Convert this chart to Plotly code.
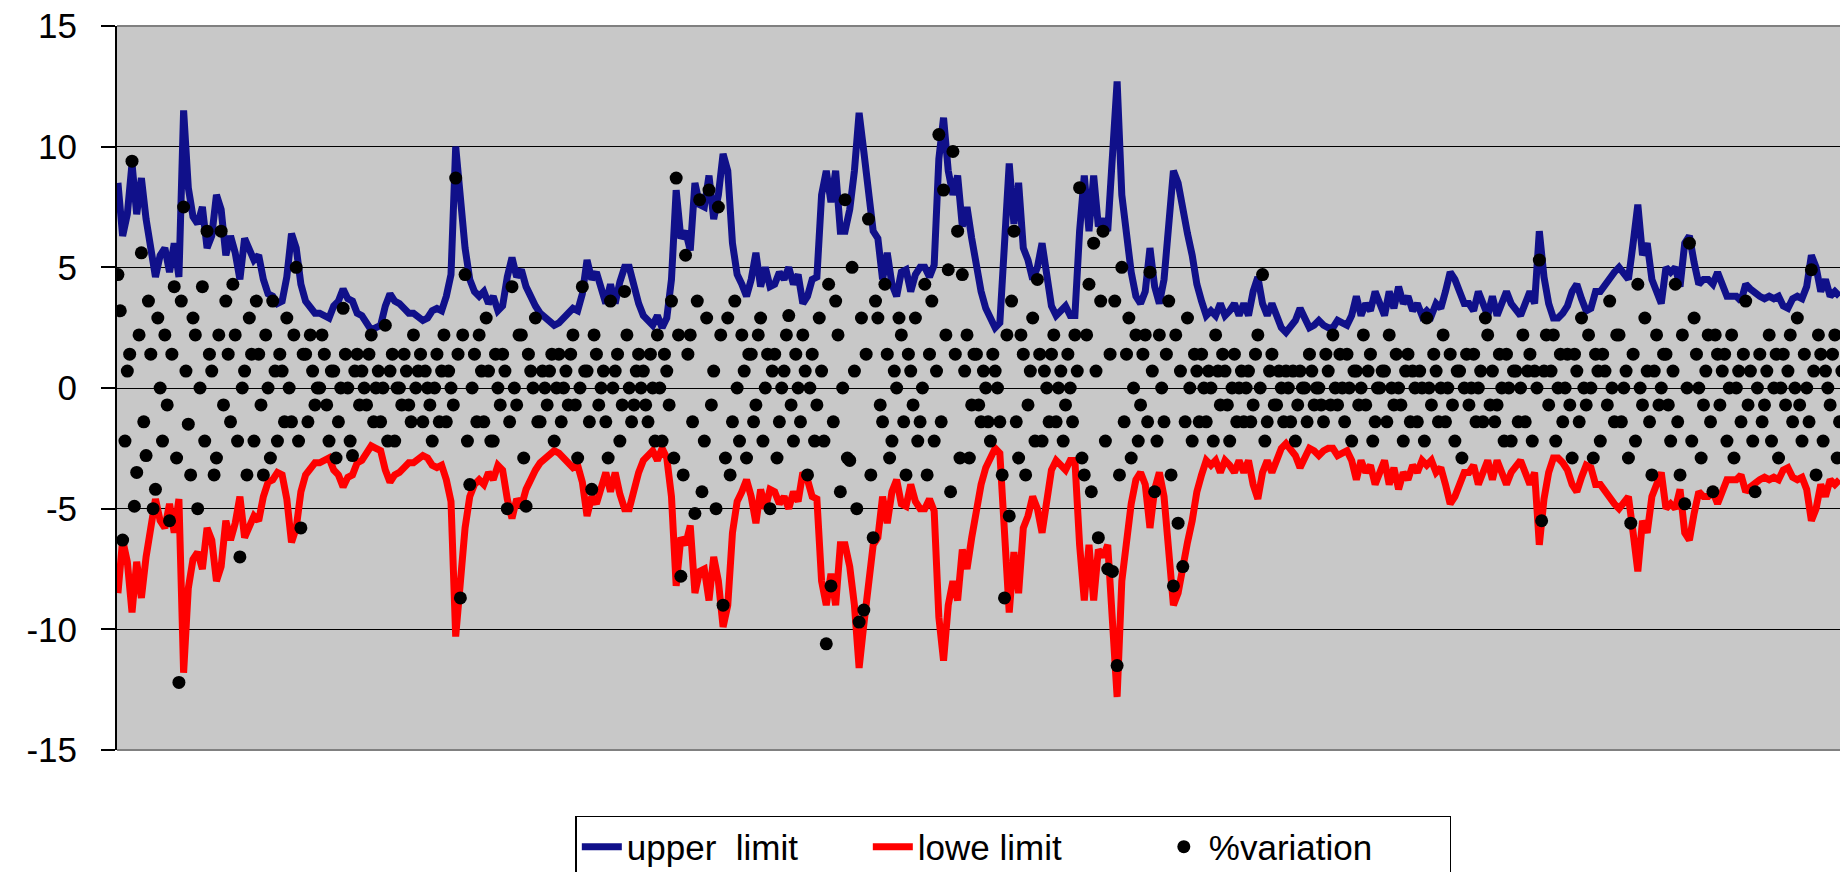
import plotly.graph_objects as go

# ---- data ----
upper_limit = [
    8.5, 6.3, 7.2, 9.3, 7.2, 8.7, 7.0, 5.8, 4.6, 5.5,
    5.8, 4.8, 6.0, 4.6, 11.5, 8.3, 7.1, 6.8, 7.5, 5.8,
    6.3, 8.0, 7.4, 5.5, 6.3, 5.6, 4.5, 6.2, 5.8, 5.3,
    5.5, 4.5, 3.9, 3.8, 3.5, 3.6, 4.6, 6.4, 5.8, 4.3,
    3.6, 3.4, 3.1, 3.1, 3.0, 2.9, 3.4, 3.6, 4.1, 3.7,
    3.6, 3.1, 3.0, 2.7, 2.4, 2.5, 2.6, 3.4, 3.9, 3.6,
    3.5, 3.3, 3.1, 3.1, 2.9, 2.8, 2.9, 3.2, 3.3, 3.2,
    3.8, 4.7, 10.0, 7.8, 5.8, 4.5, 4.0, 3.8, 4.0, 3.5,
    3.8, 3.2, 3.4, 4.6, 5.4, 4.6, 4.9, 4.2, 3.7, 3.4,
    3.1, 2.9, 2.7, 2.6, 2.7, 2.9, 3.2, 3.3, 3.2, 3.9,
    5.3, 4.5, 4.8, 4.0, 3.5, 4.3, 3.5, 4.4, 5.0, 5.0,
    4.2, 3.5, 3.0, 2.8, 2.6, 3.0, 2.5, 2.9, 4.5, 8.2,
    6.2, 6.5, 5.7, 8.5, 7.6, 7.5, 8.8, 7.0, 8.0, 9.7,
    9.0, 6.0, 4.7, 4.3, 3.8, 4.5, 5.6, 4.2, 5.0, 4.2,
    4.3, 4.8, 4.5, 5.0, 4.3, 4.7, 3.5, 3.8, 4.5, 4.6,
    8.0, 9.0, 7.7, 9.0, 6.5, 6.5, 7.4, 9.0, 11.4, 9.8,
    8.0, 6.5, 6.2, 4.5, 5.6, 4.3, 3.8, 4.8, 4.9, 4.0,
    4.7, 5.0, 5.0, 4.6, 5.1, 9.5, 11.2, 9.0, 8.0, 8.8,
    6.7, 7.5, 6.2, 5.0, 4.0, 3.3, 2.8, 2.5, 2.7, 6.0,
    9.3, 6.8, 8.5, 5.8, 5.3, 4.5, 5.0, 6.0, 4.5, 3.4,
    3.0, 3.2, 3.4, 3.0, 3.0, 6.5, 8.8, 6.5, 8.8, 6.7,
    7.0, 6.5, 9.5, 12.7, 8.0, 6.2, 4.8, 3.8, 3.5, 4.0,
    5.8, 4.2, 3.5, 4.5, 6.5, 9.0, 8.5, 7.3, 6.4, 5.5,
    4.3, 3.6, 3.0, 3.2, 3.0, 3.5, 3.0, 3.2, 3.5, 3.0,
    3.5, 3.0, 4.0, 4.6, 3.5, 3.0, 3.5, 3.0, 2.5, 2.3,
    2.5, 2.8, 3.3, 2.8, 2.5, 2.6, 2.8, 2.6, 2.5, 2.5,
    2.8, 2.7, 2.6, 3.0, 3.8, 3.0, 3.5, 3.2, 4.0, 3.5,
    3.0, 4.0, 3.3, 4.2, 3.5, 3.8, 3.2, 3.5, 3.0, 3.2,
    3.0, 3.5, 3.3, 4.0, 4.8, 4.5, 4.0, 3.5, 3.5, 3.2,
    4.0, 3.5, 3.0, 3.8, 3.0, 3.5, 4.0, 3.5, 3.2, 3.0,
    3.5, 4.0, 3.5, 6.5, 4.6, 3.5, 2.9, 2.9, 3.1, 3.4,
    4.0, 4.3, 3.7, 3.2, 3.3, 4.0, 4.0, 4.3, 4.5, 4.8,
    5.0, 4.8, 4.5, 6.0, 7.6, 5.5, 6.0, 4.5, 4.0, 3.5,
    5.0, 4.8, 5.0, 4.2, 6.0, 6.3, 5.2, 4.3, 4.5, 4.5,
    4.3, 4.8, 4.3, 3.8, 3.8, 3.8, 3.6, 4.3, 4.1, 3.9,
    3.8, 3.7, 3.8, 3.7, 3.8, 3.4, 3.3, 3.7, 3.8, 3.7,
    4.2, 5.5, 5.0, 4.0, 4.5, 3.8, 4.0, 3.8,
]

lower_limit = [
    -8.5, -6.3, -7.2, -9.3, -7.2, -8.7, -7.0, -5.8, -4.6, -5.5,
    -5.8, -4.8, -6.0, -4.6, -11.8, -8.3, -7.1, -6.8, -7.5, -5.8,
    -6.3, -8.0, -7.4, -5.5, -6.3, -5.6, -4.5, -6.2, -5.8, -5.3,
    -5.5, -4.5, -3.9, -3.8, -3.5, -3.6, -4.6, -6.4, -5.8, -4.3,
    -3.6, -3.4, -3.1, -3.1, -3.0, -2.9, -3.4, -3.6, -4.1, -3.7,
    -3.6, -3.1, -3.0, -2.7, -2.4, -2.5, -2.6, -3.4, -3.9, -3.6,
    -3.5, -3.3, -3.1, -3.1, -2.9, -2.8, -2.9, -3.2, -3.3, -3.2,
    -3.8, -4.7, -10.3, -7.8, -5.8, -4.5, -4.0, -3.8, -4.0, -3.5,
    -3.8, -3.2, -3.4, -4.6, -5.4, -4.6, -4.9, -4.2, -3.7, -3.4,
    -3.1, -2.9, -2.7, -2.6, -2.7, -2.9, -3.2, -3.3, -3.2, -3.9,
    -5.3, -4.5, -4.8, -4.0, -3.5, -4.3, -3.5, -4.4, -5.0, -5.0,
    -4.2, -3.5, -3.0, -2.8, -2.6, -3.0, -2.5, -2.9, -4.5, -8.2,
    -6.2, -6.5, -5.7, -8.5, -7.6, -7.5, -8.8, -7.0, -8.0, -9.9,
    -9.0, -6.0, -4.7, -4.3, -3.8, -4.5, -5.6, -4.2, -5.0, -4.2,
    -4.3, -4.8, -4.5, -5.0, -4.3, -4.7, -3.5, -3.8, -4.5, -4.6,
    -8.0, -9.0, -7.7, -9.0, -6.5, -6.5, -7.4, -9.0, -11.6, -9.8,
    -8.0, -6.5, -6.2, -4.5, -5.6, -4.3, -3.8, -4.8, -4.9, -4.0,
    -4.7, -5.0, -5.0, -4.6, -5.1, -9.5, -11.3, -9.0, -8.0, -8.8,
    -6.7, -7.5, -6.2, -5.0, -4.0, -3.3, -2.8, -2.5, -2.7, -6.0,
    -9.3, -6.8, -8.5, -5.8, -5.3, -4.5, -5.0, -6.0, -4.5, -3.4,
    -3.0, -3.2, -3.4, -3.0, -3.0, -6.5, -8.8, -6.5, -8.8, -6.7,
    -7.0, -6.5, -9.5, -12.8, -8.0, -6.2, -4.8, -3.8, -3.5, -4.0,
    -5.8, -4.2, -3.5, -4.5, -6.5, -9.0, -8.5, -7.3, -6.4, -5.5,
    -4.3, -3.6, -3.0, -3.2, -3.0, -3.5, -3.0, -3.2, -3.5, -3.0,
    -3.5, -3.0, -4.0, -4.6, -3.5, -3.0, -3.5, -3.0, -2.5, -2.3,
    -2.5, -2.8, -3.3, -2.8, -2.5, -2.6, -2.8, -2.6, -2.5, -2.5,
    -2.8, -2.7, -2.6, -3.0, -3.8, -3.0, -3.5, -3.2, -4.0, -3.5,
    -3.0, -4.0, -3.3, -4.2, -3.5, -3.8, -3.2, -3.5, -3.0, -3.2,
    -3.0, -3.5, -3.3, -4.0, -4.8, -4.5, -4.0, -3.5, -3.5, -3.2,
    -4.0, -3.5, -3.0, -3.8, -3.0, -3.5, -4.0, -3.5, -3.2, -3.0,
    -3.5, -4.0, -3.5, -6.5, -4.6, -3.5, -2.9, -2.9, -3.1, -3.4,
    -4.0, -4.3, -3.7, -3.2, -3.3, -4.0, -4.0, -4.3, -4.5, -4.8,
    -5.0, -4.8, -4.5, -6.0, -7.6, -5.5, -6.0, -4.5, -4.0, -3.5,
    -5.0, -4.8, -5.0, -4.2, -6.0, -6.3, -5.2, -4.3, -4.5, -4.5,
    -4.3, -4.8, -4.3, -3.8, -3.8, -3.8, -3.6, -4.3, -4.1, -3.9,
    -3.8, -3.7, -3.8, -3.7, -3.8, -3.4, -3.3, -3.7, -3.8, -3.7,
    -4.2, -5.5, -5.0, -4.0, -4.5, -3.8, -4.0, -3.8,
]

variation = [
    4.7, 3.2, -6.3, -2.2, 0.7, 1.4, 9.4, -4.9, -3.5, 2.2, 5.6, -1.4, -2.8, 3.6, 1.4, -5.0, -4.2, 2.9, 0.0, -2.2,
    2.2, -0.7, -5.5, 1.4, 4.2, -2.9, -12.2, 3.6, 7.5, 0.7, -1.5, -3.6, 2.9, 2.2, -5.0, 0.0, 4.2, -2.2, 6.5, 1.4,
    0.7, -3.6, -2.9, 2.2, 6.5, -0.7, 3.6, 1.4, -1.4, 4.3, 2.2, -2.2, -7.0, 0.0, 0.7, -3.6, 2.9, 1.4, -2.2, 3.6,
    1.4, -0.7, -3.6, 2.2, 0.0, -2.9, 3.6, 0.7, -2.2, 1.4, 0.7, -1.4, 2.9, 0.0, -1.4, 2.2, 5.0, -2.2, -5.8, 1.4,
    1.4, -1.4, 2.2, 0.7, -0.7, 0.0, 0.0, 2.2, 1.4, -0.7, -2.2, 0.7, 0.7, -2.9, -1.4, 0.0, 3.3, 1.4, 0.0, -2.2,
    -2.8, 0.7, 1.4, -0.7, 0.7, 0.0, -0.7, 1.4, 2.2, -1.4, 0.0, 0.7, -1.4, 0.0, 2.6, -2.2, 0.7, 1.4, -2.2, 0.0,
    0.0, -0.7, 1.4, 0.7, -0.7, -1.4, 2.2, 0.0, 0.7, 1.4, -1.4, 0.7, 0.0, -0.7, -2.2, 0.0, 1.4, -1.4, 0.7, 2.2,
    -1.4, 0.7, 0.0, -0.7, 8.7, 1.4, -8.7, 2.2, 4.7, -2.2, -4.0, 0.0, 1.4, -1.4, 2.2, 0.7, -1.4, 2.9, 0.7, -2.2,
    -2.2, 1.4, 0.0, -0.7, 1.4, 0.7, -5.0, -1.4, 4.2, 0.0, -0.7, 2.2, 2.2, -2.9, -4.9, 1.4, 0.7, 0.0, 2.9, -1.4,
    -1.4, 0.7, 0.0, -0.7, 0.7, 1.4, -2.2, 0.0, 1.4, -1.4, 0.0, 0.7, -0.7, 1.4, 2.2, -0.7, -2.9, 0.0, 4.2, 0.7,
    0.7, -1.4, -4.2, 2.2, 1.4, -0.7, 0.0, 0.7, -1.4, -2.9, 3.6, 0.0, 0.7, 1.4, -2.2, -0.7, 4.0, 2.2, 0.0, -1.4,
    -0.7, 0.7, 1.4, 0.0, 0.7, -0.7, -1.4, 1.4, 0.0, -2.2, 2.2, 0.0, -2.2, 1.4, 0.7, -0.7, 3.6, -2.9, 8.7, 2.2,
    -7.8, -3.6, 5.5, 1.4, 2.2, -1.4, -5.2, 3.6, 7.8, -4.3, -2.2, 2.9, 8.2, -0.7, 0.7, -5.0, 7.5, 2.2, -9.0, -2.9,
    2.9, -3.6, -1.4, 3.6, 0.0, -2.2, 2.2, 0.7, -2.9, 1.4, 1.4, -1.4, -0.7, 2.2, 2.9, -2.2, 0.0, 1.4, -5.0, 0.7,
    1.4, -2.9, -1.4, 0.0, 0.7, 2.2, 3.0, -0.7, -2.2, 1.4, 0.0, -1.4, 2.2, 0.7, -3.6, 0.0, 1.4, -2.2, -0.7, 2.9,
    0.7, -2.2, -10.6, 4.3, -8.2, -1.4, 3.6, 2.2, -4.3, 0.0, 7.8, -2.9, -3.0, 5.0, 0.7, -5.0, -9.7, 2.9, -9.2, 1.4,
    7.0, -3.6, -6.2, 3.6, 2.9, -0.7, -1.4, 4.3, 1.4, -2.9, -2.2, 0.7, 0.0, 2.9, 2.2, -1.4, -3.6, 1.4, 0.7, -0.7,
    2.9, -2.2, -1.4, 0.0, 4.3, -3.6, 1.4, 3.6, -2.2, 0.7, 10.5, -1.4, 8.2, 2.2, 4.9, -4.3, 9.8, 1.4, 6.5, -2.9,
    4.7, 0.7, 2.2, -2.9, -0.7, 1.4, 1.4, -0.7, -1.4, 0.7, 0.0, -1.4, -2.2, 1.4, 0.7, 0.0, -1.4, -3.6, -8.7, 2.2,
    -5.3, 3.6, 6.5, -1.4, -2.9, 2.2, 1.4, -3.6, -0.7, 0.7, 2.9, -2.2, 4.5, 1.4, -2.2, 0.7, 0.0, -1.4, 1.4, 2.2,
    -1.4, 0.0, 0.7, -2.2, -0.7, 1.4, 0.0, -1.4, 2.2, 0.7, 8.3, -2.9, -3.6, 2.2, 4.3, -4.3, 6.0, 0.7, -6.2, 3.6,
    6.5, -2.2, -7.5, 1.4, -7.6, 3.6, -11.5, -3.6, 5.0, -1.4, 1.4, 2.9, -2.9, 0.0, 2.2, -2.2, -0.7, 1.4, 2.2, -1.4,
    4.8, 0.7, -4.3, -2.2, 2.2, 0.0, -1.4, 1.4, 3.6, -3.6, -8.2, 2.2, -5.6, 0.7, -7.4, -1.4, 2.9, 0.0, -2.2, 1.4,
    0.7, -1.4, 1.4, 0.0, -1.4, 0.7, 0.0, -2.2, 2.2, 0.7, -0.7, 1.4, 0.7, -0.7, -2.2, 0.0, 1.4, -1.4, 0.0, 0.7,
    -1.4, 0.0, 0.7, -1.4, -0.7, 1.4, 2.2, 0.0, 4.7, -2.2, -1.4, 0.7, 1.4, -0.7, -0.7, 0.7, 0.0, -1.4, 0.7, 0.0,
    -1.4, 0.7, -2.2, -0.7, 0.7, 0.0, 0.0, -1.4, 1.4, 0.7, -0.7, 0.0, 0.0, -0.7, -1.4, 1.4, 0.7, -0.7, 2.2, 0.0,
    -0.7, 1.4, 0.0, -1.4, 1.4, 0.0, -2.2, 0.7, 0.7, -0.7, 0.0, 2.2, -0.7, 0.7, 1.4, -2.2, -1.4, 0.0, 0.0, 0.7,
    0.7, -1.4, 2.2, 0.0, -0.7, 1.4, 0.0, -0.7, -2.2, 0.7, 1.4, -1.4, 0.7, 0.0, -1.4, 0.7, 0.0, -2.2, 2.9, 0.0,
    -0.7, 1.4, 0.7, -1.4, 0.0, 2.2, -1.4, 0.0, 1.4, -0.7, -2.2, 0.7, 0.7, -2.9, 0.0, 1.4, -0.7, 0.0, 1.4, -1.4,
    0.0, 0.7, -1.4, 2.9, 2.2, -0.7, 0.7, -1.4, -0.7, 1.4, 0.0, -2.2, 1.4, 0.0, -2.2, 0.7, 0.7, -1.4, 0.0, 2.2,
    -1.4, 0.7, 1.4, -2.2, 0.7, 0.0, 5.3, -5.5, 0.7, 2.2, -0.7, 0.7, 2.2, -2.2, 0.0, 1.4, -1.4, 0.0, 1.4, -0.7,
    -2.9, 1.4, 0.7, -1.4, 2.9, 0.0, -0.7, 2.2, 0.0, -2.9, 1.4, 0.7, -2.2, 1.4, 0.7, -0.7, 3.6, 0.0, -1.4, 2.2,
    2.2, -1.4, 0.0, 0.7, -2.9, -5.6, 1.4, -2.2, 4.3, 0.0, -0.7, 2.9, 0.7, -1.4, -3.6, 0.7, 2.2, -0.7, 0.0, 1.4,
    1.4, -0.7, -2.2, 0.7, 4.3, -1.4, -3.6, 2.2, -4.8, 0.0, 6.0, -2.2, 2.9, 1.4, 0.0, -2.9, -0.7, 0.7, 2.2, -1.4,
    -4.3, 2.2, 1.4, -0.7, 0.7, 1.4, -2.2, 0.0, 2.2, -2.9, 0.0, 0.7, -1.4, 1.4, 3.6, -0.7, 0.7, -2.2, -4.3, 0.0,
    1.4, -1.4, -0.7, 0.7, 2.2, -2.2, 0.0, 1.4, -2.9, 0.0, 1.4, -0.7, 0.7, 2.2, -1.4, 0.0, 2.9, -0.7, -2.2, 1.4,
    0.0, -1.4, 4.9, 0.7, -3.6, 2.2, 1.4, -2.2, 0.7, 0.0, -0.7, 1.4, 2.2, -2.9, -1.4, 0.7,
]

y_tick_values = [-15, -10, -5, 0, 5, 10, 15]
y_tick_labels = ["-15", "-10", "-5", "0", "5", "10", "15"]
series_names = ["upper  limit", "lowe limit", "%variation"]

# ---- figure ----
x_upper = list(range(len(upper_limit)))
x_lower = list(range(len(lower_limit)))
x_var = [k * 0.5 for k in range(len(variation))]

fig = go.Figure()
fig.add_trace(go.Scatter(x=x_upper, y=upper_limit, mode="lines", name=series_names[0],
                         line=dict(color="#10108A", width=7)))
fig.add_trace(go.Scatter(x=x_lower, y=lower_limit, mode="lines", name=series_names[1],
                         line=dict(color="#FF0000", width=7)))
fig.add_trace(go.Scatter(x=x_var, y=variation, mode="markers", name=series_names[2],
                         marker=dict(color="#000000", size=13, line=dict(width=0))))

font_family = "Liberation Sans, Arial, Helvetica, sans-serif"

fig.update_layout(
    width=1840, height=872,
    margin=dict(l=117, r=0, t=26, b=122, pad=0, autoexpand=False),
    paper_bgcolor="#FFFFFF",
    plot_bgcolor="#C8C8C8",
    font=dict(family=font_family, color="#000000"),
    showlegend=True,
    legend=dict(
        orientation="h",
        x=0.266, xanchor="left",
        y=-0.091, yanchor="top",
        bgcolor="#FFFFFF",
        bordercolor="#000000", borderwidth=1.5,
        font=dict(family=font_family, size=35, color="#000000"),
        entrywidth=236,
        itemwidth=40,
    ),
    xaxis=dict(
        range=[-0.2, 367.1],
        showgrid=False, zeroline=False, showline=False,
        showticklabels=False, ticks="",
    ),
    yaxis=dict(
        range=[-15, 15],
        tickmode="array", tickvals=y_tick_values, ticktext=y_tick_labels,
        showgrid=True, gridcolor="#000000", gridwidth=1,
        zeroline=True, zerolinecolor="#000000", zerolinewidth=1,
        showline=True, linecolor="#000000", linewidth=2,
        ticks="outside", ticklen=14, tickwidth=1.5, tickcolor="#000000",
        tickfont=dict(family=font_family, size=35, color="#000000"),
        ticklabelstandoff=17,
    ),
    shapes=[
        dict(type="line", xref="paper", yref="paper", x0=0, x1=1, y0=1, y1=1,
             line=dict(color="#808080", width=2), layer="between"),
        dict(type="line", xref="paper", yref="paper", x0=0, x1=1, y0=0, y1=0,
             line=dict(color="#808080", width=2), layer="between"),
    ],
)

fig.write_html("out.html", config={"displayModeBar": False},
               post_script="document.body.style.margin='0';")
